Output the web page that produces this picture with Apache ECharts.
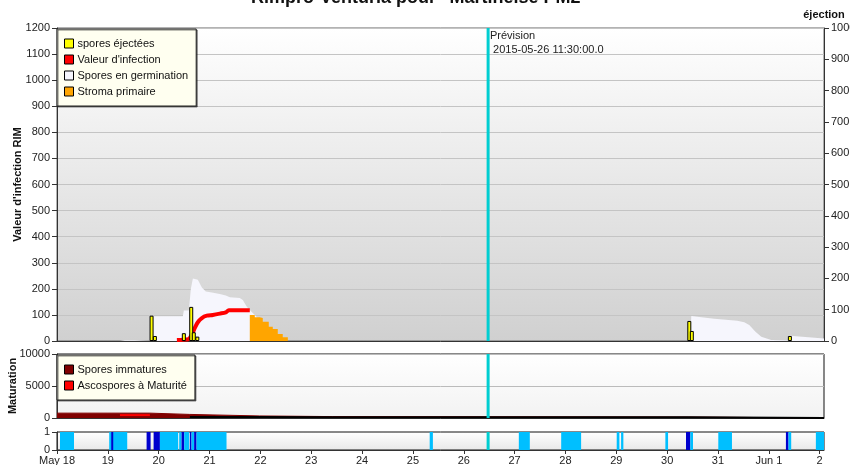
<!DOCTYPE html>
<html>
<head>
<meta charset="utf-8">
<script src="https://cdn.jsdelivr.net/npm/echarts@6/dist/echarts.min.js"></script>
<style>
html, body { margin: 0; padding: 0; background: #fff; }
#chart { width: 850px; height: 465px; }
</style>
</head>
<body>
<div id="chart"></div>
<script>
// x values are days since May 18 2015 00:00
var dayTicks = ['May 18', '19', '20', '21', '22', '23', '24', '25', '26', '27', '28', '29', '30', '31', 'Jun 1', '2'];
var xMax = 15.085;
var forecastDay = 8.479; // 2015-05-26 11:30

// spores éjectées (right axis)
var ejectDays = [1.860, 1.925, 2.495, 2.640, 2.690, 2.760, 12.436, 12.485, 14.414];
var ejectVals = [81, 16, 25, 109, 28, 14, 64, 32, 16];

// spores en germination (left axis)
var germDays = [1.238, 1.336, 1.532, 1.570, 1.866, 1.886, 2.475, 2.495, 2.593, 2.633, 2.672, 2.711, 2.770, 2.849, 2.927, 3.045, 3.202, 3.320, 3.399, 3.595, 3.654, 3.733, 3.792, 3.890, 3.988, 4.086, 4.185, 4.303, 4.420, 4.520,
    12.456, 12.475, 12.633, 12.927, 13.379, 13.517, 13.615, 13.733, 13.851, 14.047, 14.400, 14.420, 14.597, 15.085];
var germVals = [0, 3, 3, 0, 0, 95, 95, 117, 117, 200, 240, 246, 235, 205, 190, 186, 180, 174, 168, 165, 157, 131, 119, 100, 80, 55, 35, 18, 5, 0,
    0, 96, 92, 85, 78, 72, 61, 36, 16, 4, 3, 20, 17, 10];

// stroma primaire (left axis)
var stromaDays = [3.792, 3.890, 3.988, 4.047, 4.165, 4.244, 4.342, 4.440, 4.540];
var stromaVals = [100, 91, 88, 74, 55, 46, 27, 14, 0];

// valeur d'infection (left axis)
var infDays = [2.358, 2.475, 2.593, 2.652, 2.711, 2.770, 2.849, 2.947, 3.065, 3.202, 3.320, 3.379, 3.792];
var infVals = [4, 5, 8, 25, 50, 72, 88, 97, 100, 105, 110, 118, 118];

// maturation
var immDays = [0, 1.827, 2.613, 3.988, 5.420, 12.417, 15.085];
var immVals = [760, 560, 320, 220, 150, 0, 0];
var matDays = [1.238, 1.827];
var matVals = [450, 450];
var blackDays = [2.613, 3.988, 5.420, 12.417, 15.085];
var blackVals = [160, 120, 100, 0, 0];

// wetness band: start, end, type (0 = light, 1 = dark)
var wetStart = [0.059, 1.027, 1.067, 1.762, 1.900, 2.024, 2.403, 2.450, 2.501, 2.613, 2.646, 2.697, 2.745, 7.330, 9.083, 9.916, 11.008, 11.094, 11.965, 12.371, 12.456, 13.006, 14.336, 14.387, 14.925];
var wetEnd   = [0.334, 1.381, 1.106, 1.841, 2.024, 2.383, 2.450, 2.501, 2.600, 2.646, 2.697, 2.745, 3.334, 7.393, 9.299, 10.308, 11.061, 11.139, 12.018, 12.456, 12.509, 13.275, 14.387, 14.440, 15.085];
var wetType  = [0, 0, 1, 1, 1, 0, 0, 1, 0, 1, 0, 1, 0, 0, 0, 0, 0, 0, 0, 1, 0, 0, 1, 0, 0];

function zip(a, b) { return a.map(function (v, i) { return [v, b[i]]; }); }

var font = 'Liberation Sans, Arial, sans-serif';
var chart = echarts.init(document.getElementById('chart'));

function xAx(gi, labels) {
    return {
        type: 'value', gridIndex: gi, min: 0, max: xMax, interval: 1,
        axisLine: { show: true, onZero: false, lineStyle: { color: '#333' } },
        axisTick: { show: labels, length: 4, lineStyle: { color: '#333' } },
        axisLabel: {
            show: labels, fontSize: 11, color: '#222', fontFamily: font, margin: 5, showMaxLabel: false,
            formatter: function (v) { return dayTicks[v] || ''; }
        },
        splitLine: { show: false }
    };
}
function yAx(gi, max, interval, extra) {
    var o = {
        type: 'value', gridIndex: gi, min: 0, max: max, interval: interval,
        axisLine: { show: true, lineStyle: { color: '#333' } },
        axisTick: { show: true, length: 5, lineStyle: { color: '#333' } },
        axisLabel: { fontSize: 11, color: '#222', fontFamily: font, margin: 7, formatter: function (v) { return String(v); } },
        splitLine: { show: true, lineStyle: { color: '#c4c4c4' } },
        nameMoveOverlap: false,
        nameTextStyle: { fontSize: 11, fontWeight: 'bold', color: '#111', fontFamily: font }
    };
    return Object.assign(o, extra || {});
}
function grad(top, bottom) {
    return new echarts.graphic.LinearGradient(0, 0, 0, 1, [{ offset: 0, color: top }, { offset: 1, color: bottom }]);
}
var cyan = '#00ced1';

chart.setOption({
    animation: false,
    textStyle: { fontFamily: font },
    title: [
        { text: 'Rimpro-Venturia pour "Martinelse PM2"', left: 420, textAlign: 'center', top: -11, padding: 0,
          textStyle: { fontSize: 18, fontWeight: 'bold', color: '#111', fontFamily: font } },
        { text: 'Prévision\n 2015-05-26 11:30:00.0', left: 490, top: 29, padding: 0,
          textStyle: { fontSize: 11, fontWeight: 'normal', color: '#222', lineHeight: 14, fontFamily: font } }
    ],
    legend: [
        {
            orient: 'vertical', left: 57, top: 29, icon: 'rect', itemWidth: 9, itemHeight: 9, itemGap: 5,
            padding: [9, 8, 9, 7], backgroundColor: '#fffff0', borderColor: '#222', borderWidth: 1,
            shadowColor: 'rgba(0,0,0,0.5)', shadowOffsetX: 1, shadowOffsetY: 1, shadowBlur: 0,
            itemStyle: { borderColor: '#000', borderWidth: 1 },
            textStyle: { fontSize: 11, color: '#111', padding: [0, 0, 0, -1], fontFamily: font },
            data: ['spores éjectées', "Valeur d'infection", 'Spores en germination', 'Stroma primaire']
        },
        {
            orient: 'vertical', left: 57, top: 355, icon: 'rect', itemWidth: 9, itemHeight: 9, itemGap: 5,
            padding: [9, 8, 9, 7], backgroundColor: '#fffff0', borderColor: '#222', borderWidth: 1,
            shadowColor: 'rgba(0,0,0,0.5)', shadowOffsetX: 1, shadowOffsetY: 1, shadowBlur: 0,
            itemStyle: { borderColor: '#000', borderWidth: 1 },
            textStyle: { fontSize: 11, color: '#111', padding: [0, 0, 0, -1], fontFamily: font },
            data: ['Spores immatures', 'Ascospores à Maturité']
        }
    ],
    grid: [
        { left: 57, top: 28, width: 767, height: 313, show: true, outerBoundsMode: 'none', containLabel: false,
          borderColor: '#666', borderWidth: 1, backgroundColor: grad('#ffffff', '#d0d0d0') },
        { left: 57, top: 354, width: 767, height: 64, show: true, outerBoundsMode: 'none', containLabel: false,
          borderColor: '#111', borderWidth: 1, backgroundColor: grad('#ffffff', '#f2f2f2') },
        { left: 57, top: 432, width: 767, height: 18, show: true, outerBoundsMode: 'none', containLabel: false,
          borderColor: '#111', borderWidth: 1, backgroundColor: grad('#ffffff', '#e8e8e8') }
    ],
    xAxis: [xAx(0, false), xAx(1, false), xAx(2, true)],
    yAxis: [
        yAx(0, 1200, 100, { name: "Valeur d'infection RIM", nameLocation: 'middle', nameGap: 34 }),
        yAx(0, 1000, 100, { position: 'right', name: 'éjection', nameLocation: 'end', nameGap: 8, splitLine: { show: false } }),
        yAx(1, 10000, 5000, { name: 'Maturation', nameLocation: 'middle', nameGap: 39, splitLine: { show: true, lineStyle: { color: '#bbb' } } }),
        yAx(2, 1, 1, { splitLine: { show: false } })
    ],
    series: [
        {
            name: 'Spores en germination', type: 'line', xAxisIndex: 0, yAxisIndex: 0, z: 2,
            data: zip(germDays, germVals), showSymbol: false, symbol: 'none',
            color: '#f6f6fd', lineStyle: { width: 0 }, areaStyle: { color: '#f6f6fd', opacity: 1 }
        },
        {
            name: 'Stroma primaire', type: 'line', xAxisIndex: 0, yAxisIndex: 0, z: 3, step: 'end',
            data: zip(stromaDays, stromaVals), showSymbol: false, symbol: 'none',
            color: '#ffa500', lineStyle: { width: 0 }, areaStyle: { color: '#ffa500', opacity: 1 }
        },
        {
            name: "Valeur d'infection", type: 'line', xAxisIndex: 0, yAxisIndex: 0, z: 4, smooth: 0.3,
            data: zip(infDays, infVals), showSymbol: false, symbol: 'none',
            color: '#ff0000', lineStyle: { width: 4, color: '#ff0000' }
        },
        {
            name: 'spores éjectées', type: 'bar', xAxisIndex: 0, yAxisIndex: 1, z: 5, barWidth: 4,
            data: zip(ejectDays, ejectVals), color: '#ffff00',
            itemStyle: { color: '#ffff00', borderColor: '#000', borderWidth: 1 }
        },
        {
            name: 'prevision', type: 'line', xAxisIndex: 0, yAxisIndex: 0, z: 6, silent: true,
            data: [[forecastDay, 0], [forecastDay, 1200]], showSymbol: false, symbol: 'none',
            lineStyle: { width: 3, color: cyan }
        },
        {
            name: 'Spores immatures', type: 'line', xAxisIndex: 1, yAxisIndex: 2, z: 2, step: 'end',
            data: zip(immDays, immVals), showSymbol: false, symbol: 'none',
            color: '#800000', lineStyle: { width: 1, color: '#800000' }, areaStyle: { color: '#800000', opacity: 1 }
        },
        {
            name: 'Ascospores à Maturité', type: 'line', xAxisIndex: 1, yAxisIndex: 2, z: 3, step: 'end',
            data: zip(matDays, matVals), showSymbol: false, symbol: 'none',
            color: '#ff0000', lineStyle: { width: 2, color: '#ff0000' }
        },
        {
            name: 'total', type: 'line', xAxisIndex: 1, yAxisIndex: 2, z: 3, step: 'end',
            data: zip(blackDays, blackVals), showSymbol: false, symbol: 'none',
            lineStyle: { width: 2, color: '#000' }
        },
        {
            name: 'prevision2', type: 'line', xAxisIndex: 1, yAxisIndex: 2, z: 6, silent: true,
            data: [[forecastDay, 0], [forecastDay, 10000]], showSymbol: false, symbol: 'none',
            lineStyle: { width: 3, color: cyan }
        },
        {
            name: 'humectation', type: 'custom', xAxisIndex: 2, yAxisIndex: 3, z: 2,
            data: wetStart.map(function (s, i) { return [s, wetEnd[i], wetType[i]]; }),
            encode: { x: [0, 1], y: 2 },
            renderItem: function (params, api) {
                var a = api.coord([api.value(0), 1]);
                var b = api.coord([api.value(1), 0]);
                return {
                    type: 'rect',
                    shape: { x: a[0], y: a[1], width: Math.max(1, b[0] - a[0]), height: b[1] - a[1] },
                    style: { fill: api.value(2) ? '#0000cd' : '#00bfff' }
                };
            }
        },
        {
            name: 'prevision3', type: 'line', xAxisIndex: 2, yAxisIndex: 3, z: 6, silent: true,
            data: [[forecastDay, 0], [forecastDay, 1]], showSymbol: false, symbol: 'none',
            lineStyle: { width: 3, color: cyan }
        }
    ]
});
</script>
</body>
</html>
